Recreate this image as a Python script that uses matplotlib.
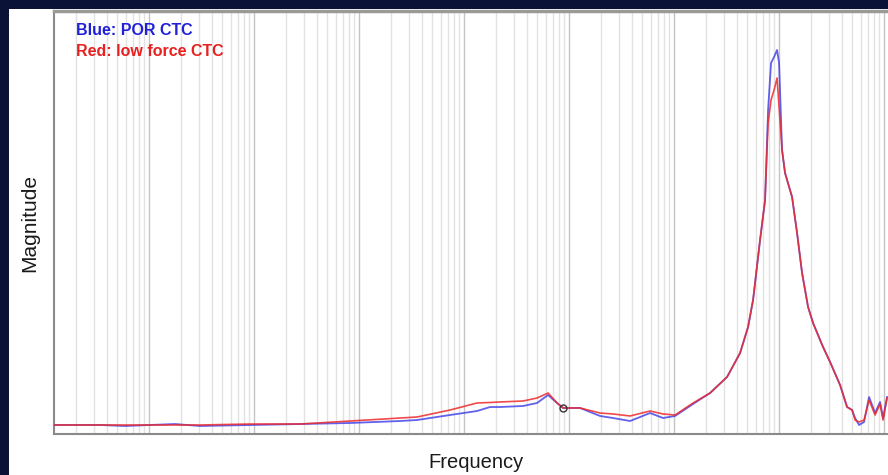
import numpy as np
import matplotlib.pyplot as plt
from matplotlib.ticker import LogLocator, NullFormatter
from matplotlib.patches import Rectangle

# frequency points (Hz) shared by both sweeps
freq = [0.0127, 0.0341, 0.0591, 0.102, 0.177, 0.306, 0.916, 2.74, 8.21, 24.6,
        35.7, 73.6, 133, 177, 220, 365, 496, 631, 769, 877, 1273, 1974, 2624,
        3811, 5906, 7858, 10220, 15170, 22030, 31970, 42530, 50680, 56550,
        65920, 73580, 78600, 83900, 89650, 95700, 100000, 106800, 114000,
        133000, 148400, 165600, 188900, 210800, 245900, 262400, 306000,
        381100, 444300, 495700, 529500, 578000, 644900, 719800, 821000,
        916000, 978300, 1068000]

# magnitude, arbitrary units
mag_por = [2.13, 2.13, 1.89, 2.13, 2.36, 1.89, 2.13, 2.36, 2.60, 3.07,
           3.31, 4.49, 5.44, 6.38, 6.38, 6.62, 7.33, 9.22, 7.33, 6.15, 6.15, 4.26, 3.78,
           3.07, 4.96, 3.78, 4.26, 7.09, 9.69, 13.48, 19.15, 25.30, 31.68,
           45.86, 55.32, 76.60, 87.71, 89.13, 90.78, 87.71, 67.14, 61.70,
           56.03, 47.52, 38.06, 30.02, 26.24, 22.22, 20.57, 17.02,
           11.58, 6.38, 5.67, 3.78, 2.13, 2.84, 8.75, 4.96,
           7.57, 3.78, 8.75]

mag_low = [2.13, 2.13, 2.13, 2.13, 2.13, 2.13, 2.36, 2.36, 3.07, 3.78,
           4.02, 5.67, 7.33, 7.45, 7.57, 7.80, 8.51, 9.69, 7.33, 6.15, 6.15, 4.96, 4.73,
           4.26, 5.44, 4.73, 4.49, 7.33, 9.69, 13.48, 19.15, 25.30, 31.68,
           45.86, 55.32, 73.52, 78.96, 81.32, 84.16, 77.30, 67.14, 61.70,
           56.03, 47.52, 38.06, 30.02, 26.24, 22.22, 20.57, 17.02,
           11.58, 6.38, 5.67, 3.31, 2.84, 3.31, 8.04, 4.49,
           7.09, 3.31, 8.51]

marker_f = [877]
marker_m = [6.15]

navy = "#0a1238"

fig = plt.figure(figsize=(8.88, 4.75), dpi=100)
fig.patch.set_facecolor(navy)
# white slide panel behind everything
panel = Rectangle((9 / 888, 0), 1, 1 - 9 / 475, transform=fig.transFigure,
                  facecolor="white", edgecolor="none", zorder=-10)
fig.add_artist(panel)

ax = fig.add_axes([54 / 888, 41 / 475, 1 - 54 / 888, 423 / 475])
ax.set_facecolor("white")
ax.set_xscale("log")
ax.set_xlim(0.01245, 1.09e6)
ax.set_ylim(0, 100)

ax.xaxis.set_major_locator(LogLocator(base=10, numticks=30))
ax.xaxis.set_minor_locator(LogLocator(base=10, subs=np.arange(2, 10), numticks=300))
ax.xaxis.set_major_formatter(NullFormatter())
ax.xaxis.set_minor_formatter(NullFormatter())
ax.set_yticks([])
ax.tick_params(axis="x", which="both", length=0)
ax.grid(True, axis="x", which="major", color="#c4c4c4", lw=1.0)
ax.grid(True, axis="x", which="minor", color="#e2e2e2", lw=1.0)

for side in ["left", "bottom"]:
    ax.spines[side].set_color("#8a8a8a")
    ax.spines[side].set_linewidth(1.5)
ax.spines["top"].set_color("#9a9a98")
ax.spines["top"].set_linewidth(2.5)
ax.spines["right"].set_visible(False)

ax.plot(freq, mag_por, color="#3a3ae6", lw=1.3, alpha=0.8, zorder=3)
ax.plot(freq, mag_low, color="#ee2a2a", lw=1.2, alpha=0.85, zorder=4)
ax.plot(marker_f, marker_m, "o", ms=5, mfc="none", mec="#333333", mew=1, zorder=5)

ax.text(0.026, 0.953, "Blue: POR CTC", transform=ax.transAxes, color="#2020d8",
        fontsize=11.5, fontweight="bold", family="Liberation Sans", va="center")
ax.text(0.026, 0.904, "Red: low force CTC", transform=ax.transAxes, color="#e82020",
        fontsize=11.5, fontweight="bold", family="Liberation Sans", va="center")

fig.text(30 / 888, 1 - 223 / 475, "Magnitude", rotation=90, ha="center", va="center",
         fontsize=15, family="Liberation Sans", color="#1a1a1a")
fig.text(476 / 888, 1 - 462 / 475, "Frequency", ha="center", va="center",
         fontsize=14.5, family="Liberation Sans", color="#1a1a1a")

fig.savefig("out.png", dpi=100, facecolor=fig.get_facecolor())
